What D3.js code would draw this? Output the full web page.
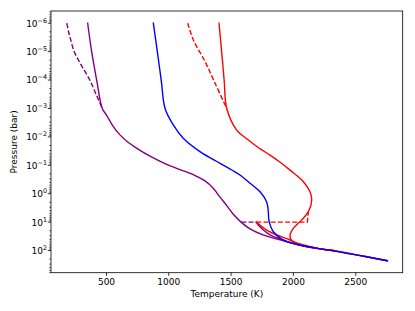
<!DOCTYPE html>
<html><head><meta charset="utf-8">
<script src="https://cdn.jsdelivr.net/npm/d3@7"></script>
<style>body{margin:0;background:#fff}svg{display:block}text{font-family:"DejaVu Sans",sans-serif;fill:#000}</style>
</head><body>
<script>
// [Temperature (K), log10 Pressure (bar)]
const purpleSolid = [[353,-6],[385,-5],[425,-4],[470,-3],[508,-2.74],[556,-2.38],[612,-2.07],[677,-1.81],[757,-1.57],[853,-1.32],[973,-1.06],[1094,-0.85],[1214,-0.64],[1295,-0.45],[1359,-0.2],[1415,0.12],[1471,0.43],[1527,0.75],[1584,1.0],[1656,1.24],[1760,1.45],[1953,1.69],[2113,1.87],[2324,2.0],[2592,2.22],[2758,2.36]];
const purpleDashUpper = [[185,-6],[200,-5.7],[215,-5.45],[245,-5],[305,-4.5],[370,-4],[420,-3.5],[470,-3]];
const purpleDashStep = [[1586,1],[1706,1]];
const purpleBranch = [[1706,1],[1722,1.1],[1750,1.22],[1816,1.45],[1923,1.63],[2017,1.77],[2218,1.94],[2324,2.0]];
const redSolid = [[1407,-6],[1428,-5],[1448,-4],[1469,-3],[1549,-2.24],[1640,-1.9],[1730,-1.6],[1816,-1.36],[1900,-1.1],[1977,-0.83],[2084,-0.42],[2137,-0.07],[2151,0.22],[2124,0.63],[2071,0.92],[2003,1.22],[1977,1.45],[1985,1.62],[2040,1.77],[2218,1.94],[2324,2.01],[2592,2.22],[2758,2.36]];
const redDashUpper = [[1156,-6],[1201,-5.41],[1295,-4.65],[1375,-3.89],[1469,-3]];
const redDashStep = [[1706,1],[2116,1],[2119,0.85],[2124,0.63]];
const redBranch = [[1706,1],[1740,1.12],[1790,1.28],[1870,1.45],[1977,1.63],[2057,1.77],[2218,1.94],[2324,2.0]];
const blueSolid = [[880,-6],[912,-5],[943,-4],[974,-3],[1040,-2.42],[1120,-1.95],[1254,-1.48],[1415,-1.07],[1509,-0.835],[1575,-0.66],[1656,-0.37],[1740,-0.05],[1790,0.3],[1802,0.6],[1808,0.95],[1843,1.34],[1923,1.63],[2031,1.78],[2218,1.94],[2324,2.01],[2592,2.22],[2758,2.36]];
const xTicks = [500,1000,1500,2000,2500];
const yTickExps = [-6,-5,-4,-3,-2,-1,0,1,2];

const W=415,H=311;
const svg=d3.select("body").append("svg").attr("width",W).attr("height",H);
const L=51,R=402.7,T=11,B=272.7;
const x=d3.scaleLinear().domain([58.6,2881]).range([L,R]);
const y=d3.scaleLog().domain([Math.pow(10,-6.43),Math.pow(10,2.78)]).range([T,B]);

const line=d3.line().x(d=>x(d[0])).y(d=>y(Math.pow(10,d[1]))).curve(d3.curveCatmullRom.alpha(0.5));
const lw=1.4, dash="5,2.2";
const series=[
 {d:purpleSolid,c:"#800080"},
 {d:purpleDashUpper,c:"#800080",dash:true},
 {d:purpleDashStep,c:"#800080",dash:true,lin:true},
 {d:purpleBranch,c:"#800080"},
 {d:redBranch,c:"#ff0000"},
 {d:redSolid,c:"#ff0000"},
 {d:redDashUpper,c:"#ff0000",dash:true},
 {d:redDashStep,c:"#ff0000",dash:true,lin:true},
 {d:blueSolid,c:"#0000ff"}
];
const g=svg.append("g");
g.append("defs").append("clipPath").attr("id","clip").append("rect").attr("x",L).attr("y",T).attr("width",R-L).attr("height",B-T);
const pg=g.append("g").attr("clip-path","url(#clip)");
series.forEach(s=>{
  const ln = s.lin ? d3.line().x(d=>x(d[0])).y(d=>y(Math.pow(10,d[1]))) : line;
  pg.append("path").attr("d",ln(s.d)).attr("fill","none").attr("stroke",s.c)
    .attr("stroke-width",lw).attr("stroke-dasharray",s.dash?dash:null)
    .attr("stroke-linejoin","round").attr("stroke-linecap",s.dash?"butt":"square");
});

// axes
const xAxis=d3.axisBottom(x).tickValues(xTicks).tickSize(3.2).tickPadding(3).tickFormat(d3.format("d"));
const xg=svg.append("g").attr("transform",`translate(0,${B})`).call(xAxis);
xg.select(".domain").remove();
xg.selectAll("line").attr("stroke","#000").attr("stroke-width",0.8);
xg.selectAll("text").attr("font-size",9).attr("font-family","DejaVu Sans");

// y minor ticks
const minor=[];
for(let e=-7;e<=2;e++){for(let m=2;m<=9;m++){const v=m*Math.pow(10,e);const yy=y(v);if(yy>=T&&yy<=B)minor.push(v);}}
const yg=svg.append("g");
yg.selectAll("line.mn").data(minor).enter().append("line").attr("x1",L).attr("x2",L-1.8)
  .attr("y1",d=>y(d)).attr("y2",d=>y(d)).attr("stroke","#000").attr("stroke-width",0.6);
yg.selectAll("line.mj").data(yTickExps).enter().append("line").attr("x1",L).attr("x2",L-3.2)
  .attr("y1",d=>y(Math.pow(10,d))).attr("y2",d=>y(Math.pow(10,d))).attr("stroke","#000").attr("stroke-width",0.8);
const yt=yg.selectAll("text.t").data(yTickExps).enter().append("text")
  .attr("x",47).attr("y",d=>y(Math.pow(10,d))+3.4).attr("text-anchor","end").attr("font-size",9);
yt.append("tspan").text("10");
yt.append("tspan").attr("font-size",6.4).attr("dy",-4).text(d=>(d<0?"\u2212":"")+Math.abs(d));

// frame
svg.append("rect").attr("x",L).attr("y",T).attr("width",R-L).attr("height",B-T)
  .attr("fill","none").attr("stroke","#000").attr("stroke-width",0.8);

svg.append("text").attr("x",(L+R)/2).attr("y",297).attr("text-anchor","middle").attr("font-size",9).text("Temperature (K)");
svg.append("text").attr("transform",`translate(17,${(T+B)/2}) rotate(-90)`).attr("text-anchor","middle").attr("font-size",9).text("Pressure (bar)");
</script>
</body></html>
